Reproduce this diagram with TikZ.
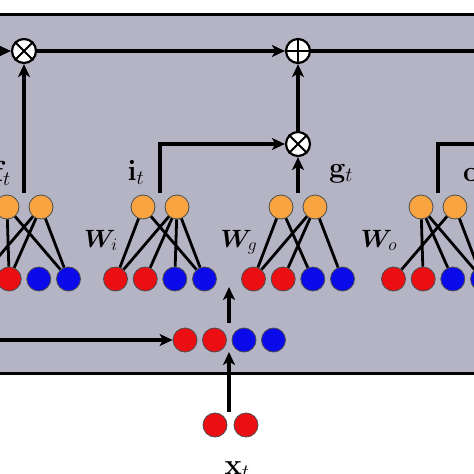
\RequirePackage{fix-cm}
\documentclass[tikz,border=0pt]{standalone}
\usepackage{bm}
\usetikzlibrary{arrows.meta}
\definecolor{panel}{RGB}{181,180,196}
\definecolor{orng}{RGB}{248,165,65}
\definecolor{rd}{RGB}{235,15,20}
\definecolor{bl}{RGB}{10,10,235}
\begin{document}
\begin{tikzpicture}[x=1pt,y=-1pt,
 unit/.style={circle,minimum size=24pt,inner sep=0pt,draw=black!70,line width=0.8pt},
 ou/.style={unit,fill=orng},
 ru/.style={unit,fill=rd},
 bu/.style={unit,fill=bl},
 opnode/.style={circle,minimum size=24pt,inner sep=0pt,draw=black,line width=2.2pt,fill=white},
 wire/.style={line width=3.2pt},
 arr/.style={wire,-{Stealth[length=13pt,width=12pt,inset=3.5pt]}},
 nedge/.style={line width=2.8pt},
 lab/.style={font=\fontsize{29}{31}\selectfont, inner sep=0pt},
 wlab/.style={font=\fontsize{25}{27}\selectfont, inner sep=0pt}
]
\useasboundingbox (0,0) rectangle (474,474);
\fill[white] (0,0) rectangle (474,474);
\path[fill=panel,draw=black,line width=3pt] (-10,14) rectangle (484,373);

% networks
\foreach \n/\c in {f/24,i/160,g/298,o/438}{
  \node[ou] (\n o1) at (\c-17,207) {};
  \node[ou] (\n o2) at (\c+17,207) {};
  \node[ru] (\n r1) at (\c-44.5,279) {};
  \node[ru] (\n r2) at (\c-14.8,279) {};
  \node[bu] (\n b1) at (\c+14.8,279) {};
  \node[bu] (\n b2) at (\c+44.5,279) {};
  \coordinate (\n top) at (\c,193);
}
\foreach \n/\c in {i/160,g/298,o/438}{
  \node[wlab,anchor=base] (\n w) at (\c-59,247) {$\bm{W}_{\n}$};
}
% connections
\draw[nedge] (fo1) -- (fr2) (fo1) -- (fb2) (fo2) -- (fr1) (fo2) -- (fr2) (fo2) -- (fb2);
\draw[nedge] (io1) -- (ir1) (io1) -- (ib2) (io2) -- (ir1) (io2) -- (ir2) (io2) -- (ib1) (io2) -- (ib2);
\draw[nedge] (go1) -- (gr1) (go1) -- (gb1) (go2) -- (gr1) (go2) -- (gr2) (go2) -- (gb2);
\draw[nedge] (oo1) -- (or2) (oo1) -- (ob1) (oo1) -- (ob2) (oo2) -- (or1) (oo2) -- (ob2);

% operators
\node[opnode] (mf) at (24,51) {};
\draw[line width=2pt] (mf.45) -- (mf.225) (mf.135) -- (mf.315);
\node[opnode] (pl) at (298,51) {};
\draw[line width=2pt] (pl.north) -- (pl.south) (pl.east) -- (pl.west);
\node[opnode] (mg) at (298,144) {};
\draw[line width=2pt] (mg.45) -- (mg.225) (mg.135) -- (mg.315);

% wires
\coordinate (lin) at (-10,51);
\coordinate (rout) at (484,51);
\coordinate (oright) at (484,144);
\draw[arr] (lin) -- (mf);
\draw[arr] (mf) -- (pl);
\draw[wire] (pl) -- (rout);
\draw[arr] (ftop) -- (mf);
\draw[arr] (itop) |- (mg);
\draw[arr] (gtop) -- (mg);
\draw[arr] (mg) -- (pl);
\draw[wire] (otop) |- (oright);

% labels
\node[lab,anchor=base east] (ft) at (11,181) {$\mathbf{f}_t$};
\node[lab,anchor=base] (it) at (136,180) {$\mathbf{i}_t$};
\node[lab,anchor=base] (gt) at (341,177) {$\mathbf{g}_t$};
\node[lab,anchor=base west] (ot) at (463,181) {$\mathbf{o}_t$};

% concatenation
\node[ru] (c1) at (185,340) {};
\node[ru] (c2) at (214.5,340) {};
\node[bu] (c3) at (244,340) {};
\node[bu] (c4) at (273.5,340) {};
\coordinate (hin) at (-10,340);
\draw[arr] (hin) -- (c1);
\coordinate (cup) at (229,323);
\coordinate (cdst) at (229,287);
\draw[arr] (cup) -- (cdst);

% input
\node[ru] (x1) at (215,425) {};
\node[ru] (x2) at (246,425) {};
\coordinate (xs) at (229,412);
\coordinate (xe) at (229,352);
\draw[arr] (xs) -- (xe);
\node[lab,anchor=base] (xt) at (237,474) {$\mathbf{x}_t$};
\end{tikzpicture}
\end{document}
